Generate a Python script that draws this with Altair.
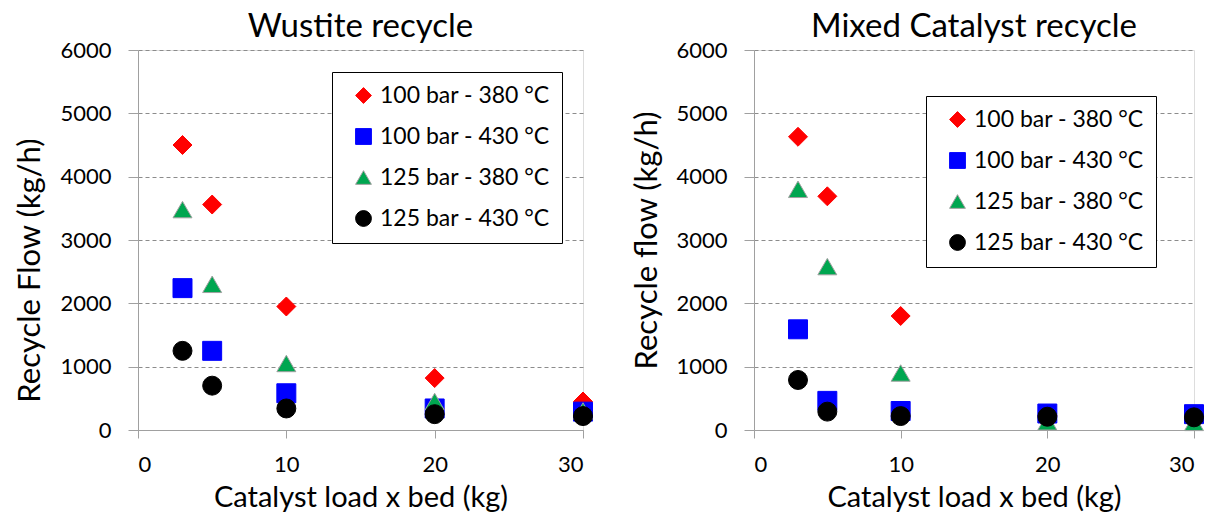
import altair as alt
import pandas as pd

loads = [3, 5, 10, 20, 30]
series_names = ["100 bar - 380 °C", "100 bar - 430 °C", "125 bar - 380 °C", "125 bar - 430 °C"]

wustite_100_380 = [4500, 3560, 1950, 820, 450]
wustite_100_430 = [2240, 1250, 580, 340, 290]
wustite_125_380 = [3480, 2300, 1050, 450, 300]
wustite_125_430 = [1250, 700, 340, 250, 220]

mixed_100_380 = [4630, 3690, 1800, 230, 220]
mixed_100_430 = [1590, 460, 300, 260, 250]
mixed_125_380 = [3800, 2580, 900, 130, 120]
mixed_125_430 = [790, 290, 220, 210, 200]

x_ticks = [0, 10, 20, 30]
y_ticks = [0, 1000, 2000, 3000, 4000, 5000, 6000]

FONT = "Lato"
fills = ["#ff0000", "#0000ff", "#00a650", "#000000"]
strokes = ["#ff0000", "#0000ff", "#a0a0a0", "#000000"]
shapes = ["diamond", "square", "triangle-up", "circle"]


def make_df(series_values):
    rows = []
    for name, vals in zip(series_names, series_values):
        for x, y in zip(loads, vals):
            rows.append({"series": name, "load": x, "flow": y})
    return pd.DataFrame(rows)


def panel(df, title, ytitle, lx, ly, w, ytitle_pad, ytitle_y=None):
    legend = alt.Legend(
        title=None,
        orient="none",
        legendX=lx,
        legendY=ly,
        strokeColor="black",
        fillColor="white",
        padding=12,
        labelFont=FONT,
        labelFontSize=23,
        labelColor="black",
        labelLimit=400,
        symbolSize=250,
        symbolStrokeWidth=1,
        symbolOffset=8,
        rowPadding=17,
        labelOffset=5,
    )
    yaxis_kw = dict(
        title=ytitle,
        values=y_ticks,
        format="d",
        grid=True,
        gridDash=[4, 3],
        gridColor="#8c8c8c",
        domainColor="#a0a0a0",
        tickColor="#a0a0a0",
        tickSize=10,
        labelFont=FONT,
        labelFontSize=22,
        labelColor="black",
        labelPadding=17,
        titleFont=FONT,
        titleFontSize=31,
        titleFontWeight="normal",
        titleColor="black",
        titlePadding=ytitle_pad,
    )
    if ytitle_y is not None:
        yaxis_kw["titleY"] = ytitle_y
    return (
        alt.Chart(df, title=alt.Title(title, font=FONT, fontSize=33, fontWeight="normal", color="black", offset=-5))
        .mark_point(filled=True, size=360, opacity=1, strokeWidth=1)
        .encode(
            x=alt.X(
                "load:Q",
                scale=alt.Scale(domain=[0, 30], nice=False),
                axis=alt.Axis(
                    title="Catalyst load x bed (kg)",
                    values=x_ticks,
                    grid=False,
                    domainColor="#a0a0a0",
                    tickColor="#a0a0a0",
                    tickSize=8,
                    labelFont=FONT,
                    labelFontSize=22,
                    labelColor="black",
                    labelPadding=16,
                    titleFont=FONT,
                    titleFontSize=29,
                    titleFontWeight="normal",
                    titleColor="black",
                    titlePadding=8,
                ),
            ),
            y=alt.Y("flow:Q", scale=alt.Scale(domain=[0, 6000], nice=False), axis=alt.Axis(**yaxis_kw)),
            fill=alt.Fill("series:N", scale=alt.Scale(domain=series_names, range=fills), legend=legend),
            stroke=alt.Stroke("series:N", scale=alt.Scale(domain=series_names, range=strokes), legend=legend),
            shape=alt.Shape("series:N", scale=alt.Scale(domain=series_names, range=shapes), legend=legend),
        )
        .properties(width=w, height=380)
    )


left = panel(
    make_df([wustite_100_380, wustite_100_430, wustite_125_380, wustite_125_430]),
    "Wustite recycle", "Recycle Flow (kg/h)", 194, 22, 445, 13, 220,
)
right = panel(
    make_df([mixed_100_380, mixed_100_430, mixed_125_380, mixed_125_430]),
    "Mixed Catalyst recycle", "Recycle flow (kg/h)", 172, 46, 440, 12,
)

chart = (
    alt.hconcat(left, right, spacing=36)
    .resolve_scale(fill="independent", stroke="independent", shape="independent")
    .resolve_legend(fill="independent", stroke="independent", shape="independent")
    .properties(padding={"left": 6, "top": 2, "right": 0, "bottom": 0})
    .configure_view(stroke=None)
    .configure(background="white")
)

chart.save("out.html", embed_options={"renderer": "svg", "actions": False})
